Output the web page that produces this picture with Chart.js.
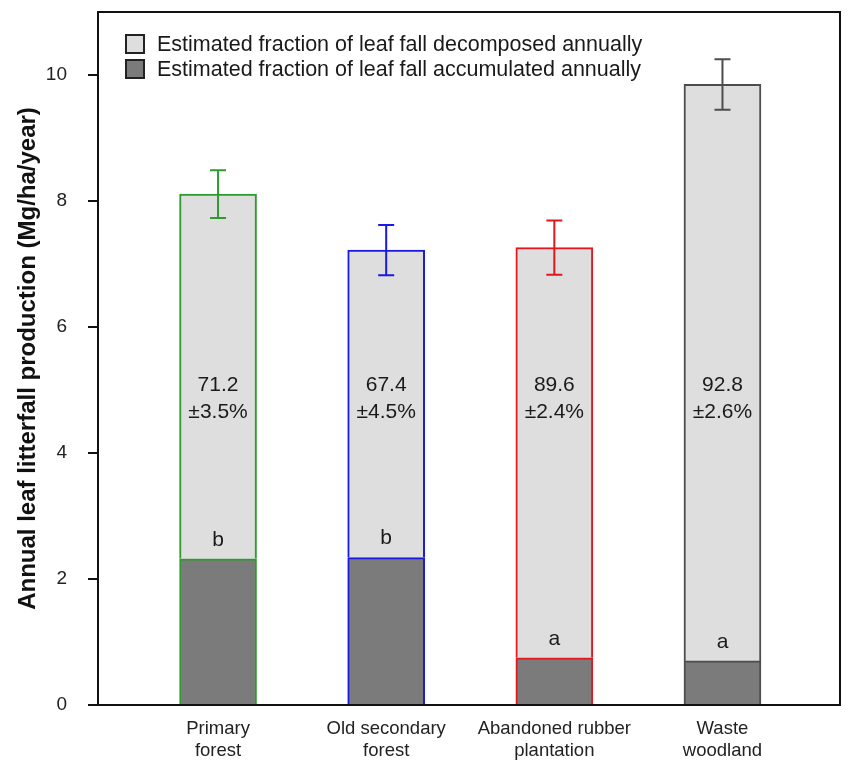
<!DOCTYPE html>
<html>
<head>
<meta charset="utf-8">
<script src="https://cdn.jsdelivr.net/npm/chart.js@4"></script>
<style>
  html, body { margin: 0; padding: 0; background: #fff; }
  #wrap { width: 849px; height: 761px; }
</style>
</head>
<body>
<div id="wrap"><canvas id="leafChart" width="849" height="761"></canvas></div>
<script>
// values
const sites = [["Primary", "forest"], ["Old secondary", "forest"], ["Abandoned rubber", "plantation"], ["Waste", "woodland"]];
const accumulated = [2.32, 2.34, 0.75, 0.70];
const decomposed = [5.79, 4.88, 6.51, 9.15];
const totals = [8.11, 7.22, 7.26, 9.85];
const errors = [0.38, 0.40, 0.43, 0.40];
const pctDecomposed = ["71.2", "67.4", "89.6", "92.8"];
const pctSd = ["3.5", "4.5", "2.4", "2.6"];
const groupLetters = ["b", "b", "a", "a"];
const yTicks = [0, 2, 4, 6, 8, 10];

const siteColors = ["#2f9a2f", "#1a1ae0", "#e0181e", "#4d4d4d"];
const lightFill = "#dedede";
const darkFill = "#7b7b7b";
const ink = "#1a1a1a";
const FONT = "'Liberation Sans', Arial, sans-serif";

const xPos = sites.map((s, i) => i + 1);

const overlay = {
  id: "overlay",
  afterDatasetsDraw(chart) {
    const { ctx, chartArea, scales } = chart;
    const x = scales.x;
    const y = scales.y;
    ctx.save();

    // error bars
    totals.forEach((t, i) => {
      const cx = x.getPixelForValue(xPos[i]);
      const top = y.getPixelForValue(t + errors[i]);
      const bot = y.getPixelForValue(t - errors[i]);
      ctx.strokeStyle = siteColors[i];
      ctx.lineWidth = 2;
      ctx.beginPath();
      ctx.moveTo(cx, top); ctx.lineTo(cx, bot);
      ctx.moveTo(cx - 8, top); ctx.lineTo(cx + 8, top);
      ctx.moveTo(cx - 8, bot); ctx.lineTo(cx + 8, bot);
      ctx.stroke();
    });

    // percentages and letters
    ctx.fillStyle = ink;
    ctx.textAlign = "center";
    ctx.textBaseline = "middle";
    ctx.font = "21px " + FONT;
    pctDecomposed.forEach((p, i) => {
      const cx = x.getPixelForValue(xPos[i]);
      ctx.fillText(p, cx, y.getPixelForValue(5.07));
      ctx.fillText("\u00b1" + pctSd[i] + "%", cx, y.getPixelForValue(4.64));
      ctx.fillText(groupLetters[i], cx, y.getPixelForValue(accumulated[i]) - 19);
    });

    // frame
    ctx.strokeStyle = "#111";
    ctx.lineWidth = 2;
    ctx.strokeRect(chartArea.left, chartArea.top, chartArea.right - chartArea.left, chartArea.bottom - chartArea.top);

    // legend inside the plot
    const items = [
      ["Estimated fraction of leaf fall decomposed annually", lightFill],
      ["Estimated fraction of leaf fall accumulated annually", darkFill]
    ];
    ctx.textAlign = "left";
    ctx.font = "21.5px " + FONT;
    items.forEach((it, k) => {
      const cy = 44 + k * 25;
      ctx.fillStyle = it[1];
      ctx.fillRect(126, cy - 9, 18, 18);
      ctx.strokeStyle = "#222";
      ctx.lineWidth = 2;
      ctx.strokeRect(126, cy - 9, 18, 18);
      ctx.fillStyle = ink;
      ctx.fillText(it[0], 157, cy + 1);
    });
    ctx.restore();
  }
};

new Chart(document.getElementById("leafChart").getContext("2d"), {
  type: "bar",
  data: {
    datasets: [
      {
        label: "Estimated fraction of leaf fall accumulated annually",
        data: accumulated.map((v, i) => ({ x: xPos[i], y: v })),
        backgroundColor: darkFill,
        borderColor: siteColors,
        borderWidth: 2,
        borderSkipped: "start",
        stack: "leaf"
      },
      {
        label: "Estimated fraction of leaf fall decomposed annually",
        data: decomposed.map((v, i) => ({ x: xPos[i], y: v })),
        backgroundColor: lightFill,
        borderColor: siteColors,
        borderWidth: 2,
        borderSkipped: "start",
        stack: "leaf"
      }
    ]
  },
  options: {
    responsive: false,
    animation: false,
    barThickness: 77,
    layout: { padding: { top: 12, right: 9, left: 0, bottom: 0 } },
    plugins: { legend: { display: false }, tooltip: { enabled: false } },
    scales: {
      x: {
        type: "linear",
        stacked: true,
        offset: false,
        min: 0.286,
        max: 4.699,
        grid: { display: false },
        border: { display: false },
        afterBuildTicks: (scale) => { scale.ticks = xPos.map((v) => ({ value: v })); },
        afterFit: (scale) => { scale.height = 56; scale.paddingLeft = 0; scale.paddingRight = 0; },
        ticks: {
          autoSkip: false,
          maxRotation: 0,
          padding: 5,
          color: "#222",
          font: { family: FONT, size: 18.5, lineHeight: 1.2 },
          callback: (v) => sites[v - 1]
        }
      },
      y: {
        stacked: true,
        min: 0,
        max: 11,
        afterBuildTicks: (scale) => { scale.ticks = yTicks.map((v) => ({ value: v })); },
        afterFit: (scale) => { scale.width = 98; scale.paddingTop = 0; scale.paddingBottom = 0; },
        border: { display: false },
        grid: { drawOnChartArea: false, drawTicks: true, tickLength: 10, lineWidth: 2, color: "#111" },
        ticks: { padding: 21, color: "#222", font: { family: FONT, size: 19 } },
        title: {
          display: true,
          text: "Annual leaf litterfall production (Mg/ha/year)",
          color: "#111",
          font: { family: FONT, size: 24, weight: "bold" },
          padding: { top: 14, bottom: 0 }
        }
      }
    }
  },
  plugins: [overlay]
});
</script>
</body>
</html>
